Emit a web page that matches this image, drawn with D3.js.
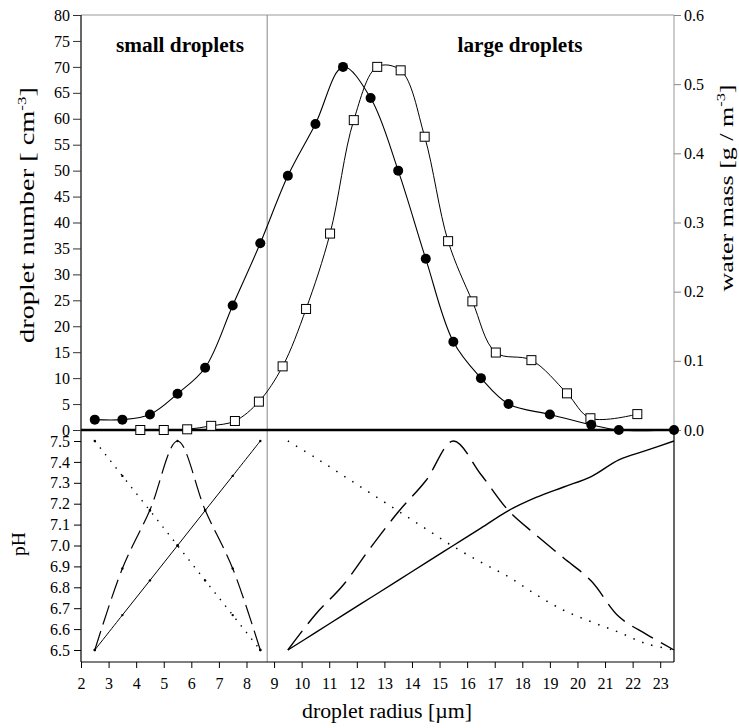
<!DOCTYPE html>
<html><head><meta charset="utf-8">
<script src="https://cdn.jsdelivr.net/npm/d3@7"></script>
<style>
html,body{margin:0;padding:0;background:#fff;}
svg text{font-family:"Liberation Serif","Times New Roman",serif;fill:#000;}
</style></head>
<body>
<svg id="chart" width="739" height="728"></svg>
<script>
// ---------- DATA ----------
const radiusNumber = [2.5,3.5,4.5,5.5,6.5,7.5,8.5,9.5,10.5,11.5,12.5,13.5,14.5,15.5,16.5,17.5,19,20.5,21.5,23.5];
const dropletNumber = [2,2,3,7,12,24,36,49,59,70,64,50,33,17,10,5,3,1,0,0];

const radiusMass = [4.15,5.0,5.85,6.72,7.58,8.45,9.31,10.16,11.03,11.89,12.74,13.59,14.46,15.31,16.19,17.04,18.33,19.62,20.47,22.17];
const waterMass = [0,0,0.001,0.006,0.013,0.041,0.092,0.175,0.284,0.448,0.525,0.52,0.424,0.273,0.186,0.112,0.101,0.053,0.017,0.023];

const radiusSmall = [2.5,3.5,4.5,5.5,6.5,7.5,8.5];
const pHSolidSmall = [6.5,6.667,6.833,7.0,7.167,7.333,7.5];
const pHDottedSmall = [7.5,7.333,7.167,7.0,6.833,6.667,6.5];
const pHDashedSmall = [6.5,6.89,7.17,7.5,7.17,6.89,6.5];

const radiusLarge = [9.5,10.5,11.5,12.5,13.5,14.5,15.5,16.5,17.5,18.5,19.5,20.5,21.5,22.5,23.5];
const pHSolidLarge = [6.5,6.583,6.667,6.75,6.833,6.917,7.0,7.083,7.167,7.23,7.28,7.33,7.41,7.455,7.5];
const pHDottedLarge = [7.5,7.42,7.335,7.25,7.165,7.08,6.995,6.92,6.85,6.765,6.69,6.635,6.585,6.53,6.5];
const pHDashedLarge = [6.5,6.67,6.81,6.99,7.16,7.31,7.5,7.34,7.167,7.05,6.94,6.83,6.66,6.575,6.5];

const xTicks = d3.range(2,24,1);
const numberTicks = d3.range(0,81,5);
const massTicks = [0,0.1,0.2,0.3,0.4,0.5,0.6];
const pHTicks = [6.5,6.6,6.7,6.8,6.9,7.0,7.1,7.2,7.3,7.4,7.5];
const dividerRadius = 8.75;
const labels = {small:"small droplets", large:"large droplets"};

// ---------- LAYOUT ----------
const L = 81, R = 674, T = 15, MID = 430, B = 662;
const svg = d3.select("#chart");

const x = d3.scaleLinear().domain([2,23.5]).range([L,R]);
const yN = d3.scaleLinear().domain([0,80]).range([MID,T]);
const yM = d3.scaleLinear().domain([0,0.6]).range([MID,T]);
const yP = d3.scaleLinear().domain([6.5,7.5]).range([650,441]);

const zip = (a,b)=>a.map((v,i)=>[v,b[i]]);

// frame
const g = svg.append("g");
g.append("line").attr("x1",L).attr("x2",R).attr("y1",T).attr("y2",T).attr("stroke","#999").attr("stroke-width",1);
g.append("line").attr("x1",R).attr("x2",R).attr("y1",T).attr("y2",MID).attr("stroke","#999").attr("stroke-width",1);
g.append("line").attr("x1",x(dividerRadius)).attr("x2",x(dividerRadius)).attr("y1",T).attr("y2",B).attr("stroke","#888").attr("stroke-width",1);
g.append("line").attr("x1",R).attr("x2",R).attr("y1",MID).attr("y2",B).attr("stroke","#000").attr("stroke-width",1.2);
g.append("line").attr("x1",L).attr("x2",R).attr("y1",B).attr("y2",B).attr("stroke","#000").attr("stroke-width",1.2);
g.append("line").attr("x1",L).attr("x2",L).attr("y1",T).attr("y2",B).attr("stroke","#000").attr("stroke-width",1.2);

// axes
function styleAxis(sel, col){
  sel.select(".domain").remove();
  sel.selectAll(".tick line").attr("stroke",col).attr("stroke-width",1);
  sel.selectAll(".tick text").attr("font-size",16).attr("font-family","Liberation Serif, Times New Roman, serif");
}
svg.append("g").attr("transform",`translate(${L},0)`)
  .call(d3.axisLeft(yN).tickValues(numberTicks).tickSize(8).tickPadding(3))
  .call(s=>styleAxis(s,"#333"));
svg.append("g").attr("transform",`translate(${R},0)`)
  .call(d3.axisRight(yM).tickValues(massTicks).tickFormat(d3.format(".1f")).tickSize(7).tickPadding(3))
  .call(s=>styleAxis(s,"#888"));
svg.append("g").attr("transform",`translate(${L},0)`)
  .call(d3.axisLeft(yP).tickValues(pHTicks).tickFormat(d3.format(".1f")).tickSize(7).tickPadding(4))
  .call(s=>styleAxis(s,"#000"));
svg.append("g").attr("transform",`translate(0,${B})`)
  .call(d3.axisBottom(x).tickValues(xTicks).tickSize(6).tickPadding(10))
  .call(s=>styleAxis(s,"#000"));

// top curves
const curve = d3.curveCatmullRom.alpha(0.5);
const lineN = d3.line().x(d=>x(d[0])).y(d=>yN(d[1])).curve(curve);
const lineM = d3.line().x(d=>x(d[0])).y(d=>yM(d[1])).curve(curve);
svg.append("path").attr("d",lineN(zip(radiusNumber,dropletNumber))).attr("fill","none").attr("stroke","#000").attr("stroke-width",1.1);
svg.append("path").attr("d",lineM(zip(radiusMass,waterMass))).attr("fill","none").attr("stroke","#000").attr("stroke-width",1);

// bottom curves
const lineP = d3.line().x(d=>x(d[0])).y(d=>yP(d[1])).curve(d3.curveCatmullRom.alpha(0.5));
const bottomSeries = [
  [radiusSmall,pHSolidSmall,null,1],
  [radiusSmall,pHDottedSmall,"1.4,7",1.4],
  [radiusSmall,pHDashedSmall,"20,7",1.2],
  [radiusLarge,pHSolidLarge,null,1.4],
  [radiusLarge,pHDottedLarge,"1.5,8",1.5],
  [radiusLarge,pHDashedLarge,"24,9",1.4]
];
bottomSeries.forEach(([xs,ys,dash,w])=>{
  const p = svg.append("path").attr("d",lineP(zip(xs,ys))).attr("fill","none").attr("stroke","#000").attr("stroke-width",w);
  if(dash) p.attr("stroke-dasharray",dash);
});
[[radiusSmall,pHSolidSmall],[radiusSmall,pHDottedSmall],[radiusSmall,pHDashedSmall]].forEach(([xs,ys])=>{
  svg.append("g").selectAll("circle").data(zip(xs,ys)).join("circle")
    .attr("cx",d=>x(d[0])).attr("cy",d=>yP(d[1])).attr("r",1.2).attr("fill","#000");
});

// zero line
svg.append("line").attr("x1",L).attr("x2",R).attr("y1",MID).attr("y2",MID).attr("stroke","#000").attr("stroke-width",2.5);

// markers
svg.append("g").selectAll("rect").data(zip(radiusMass,waterMass)).join("rect")
  .attr("x",d=>x(d[0])-4.5).attr("y",d=>yM(d[1])-4.5).attr("width",9).attr("height",9)
  .attr("fill","#fff").attr("stroke","#000").attr("stroke-width",1);
svg.append("g").selectAll("circle").data(zip(radiusNumber,dropletNumber)).join("circle")
  .attr("cx",d=>x(d[0])).attr("cy",d=>yN(d[1])).attr("r",5).attr("fill","#000");

// panel labels
svg.append("text").attr("x",180).attr("y",52).attr("text-anchor","middle").attr("font-size",20).attr("font-weight","bold")
  .attr("textLength",128).attr("lengthAdjust","spacingAndGlyphs").text(labels.small);
svg.append("text").attr("x",520).attr("y",52).attr("text-anchor","middle").attr("font-size",20).attr("font-weight","bold")
  .attr("textLength",125).attr("lengthAdjust","spacingAndGlyphs").text(labels.large);

// axis titles
const tl = svg.append("text").attr("transform","translate(34,215) rotate(-90)").attr("text-anchor","middle")
  .attr("font-size",20).attr("textLength",256).attr("lengthAdjust","spacingAndGlyphs");
tl.append("tspan").text("droplet number [ cm");
tl.append("tspan").attr("dy",-8).attr("font-size",12).text("-3");
tl.append("tspan").attr("dy",8).text("]");

const tr = svg.append("text").attr("transform","translate(733,188) rotate(-90)").attr("text-anchor","middle")
  .attr("font-size",19).attr("textLength",207).attr("lengthAdjust","spacingAndGlyphs");
tr.append("tspan").text("water mass [g / m");
tr.append("tspan").attr("dy",-8).attr("font-size",12).text("-3");
tr.append("tspan").attr("dy",8).text("]");

svg.append("text").attr("transform","translate(25,544) rotate(-90)").attr("text-anchor","middle")
  .attr("font-size",19).attr("textLength",24).attr("lengthAdjust","spacingAndGlyphs").text("pH");

svg.append("text").attr("x",387).attr("y",718).attr("text-anchor","middle")
  .attr("font-size",20).attr("textLength",170).attr("lengthAdjust","spacingAndGlyphs").text("droplet radius [µm]");
</script>
</body></html>
